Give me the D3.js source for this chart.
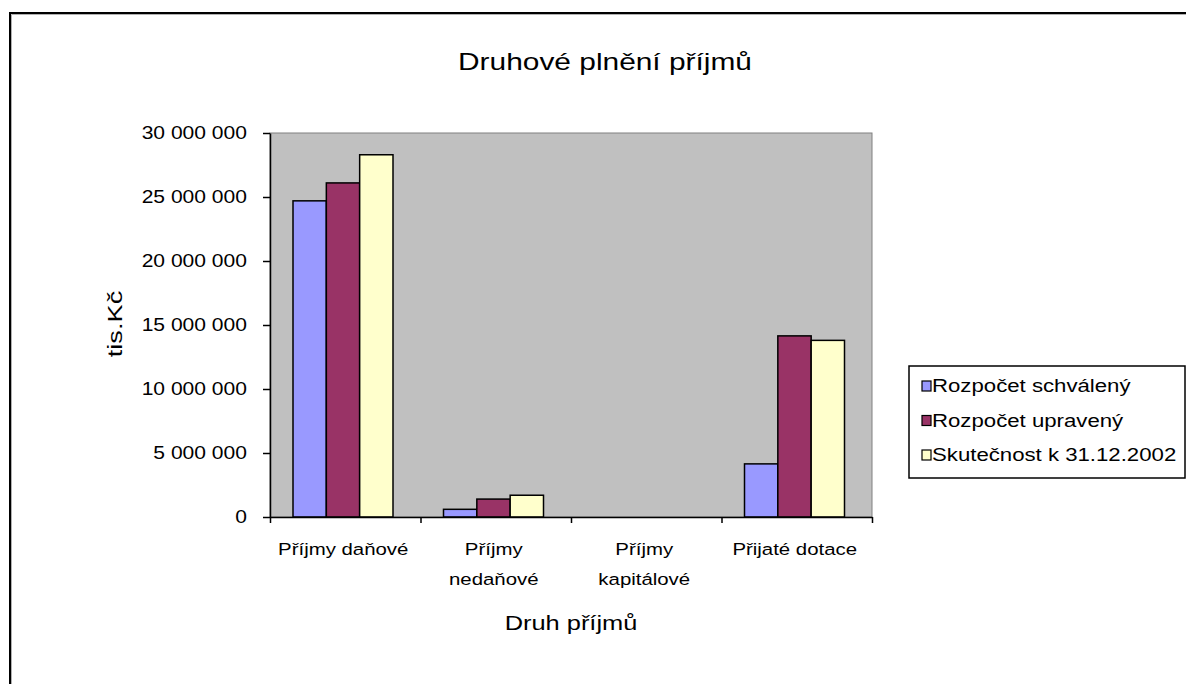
<!DOCTYPE html>
<html>
<head>
<meta charset="utf-8">
<script src="https://cdn.jsdelivr.net/npm/d3@7"></script>
<style>
  body { margin: 0; background: #fff; }
  text { font-family: Arial, "Liberation Sans", sans-serif; fill: #000; }
</style>
</head>
<body>
<div id="chart"></div>
<script>
// Data
var categories = [["Příjmy daňové"], ["Příjmy", "nedaňové"], ["Příjmy", "kapitálové"], ["Přijaté dotace"]];
var seriesNames = ["Rozpočet schválený", "Rozpočet upravený", "Skutečnost k 31.12.2002"];
var schvaleny = [24700000, 600000, 0, 4150000];
var upraveny = [26100000, 1400000, 0, 14150000];
var skutecnost = [28300000, 1700000, 0, 13800000];
var yTicks = [0, 5000000, 10000000, 15000000, 20000000, 25000000, 30000000];

var seriesValues = [schvaleny, upraveny, skutecnost];
var colors = ["#9999ff", "#993366", "#ffffcc"];

// Sizes
var svgWidth = 1186;
var svgHeight = 684;
var plot = { left: 270, right: 872, top: 133, bottom: 517 };

var svg = d3.select("#chart")
  .append("svg")
  .attr("width", svgWidth)
  .attr("height", svgHeight);

// text placed with a horizontal stretch, like the original screenshot
function stretchedText(x, y, sx, size, str, anchor) {
  return svg.append("text")
    .attr("transform", `translate(${x},${y}) scale(${sx},1)`)
    .attr("text-anchor", anchor || "middle")
    .style("font-size", size + "px")
    .text(str);
}

// outer chart border (runs off the right/bottom edge)
svg.append("rect")
  .attr("x", 10).attr("y", 13)
  .attr("width", 1300).attr("height", 800)
  .attr("fill", "#fff")
  .attr("stroke", "#000")
  .attr("stroke-width", 2);
svg.append("line").attr("x1", 11.5).attr("x2", 1300).attr("y1", 14.5).attr("y2", 14.5)
  .attr("stroke", "#b0b0b0").attr("stroke-width", 1);
svg.append("line").attr("x1", 11.5).attr("x2", 11.5).attr("y1", 14.5).attr("y2", 800)
  .attr("stroke", "#b0b0b0").attr("stroke-width", 1);

// title
stretchedText(605, 70, 1.3, 23, "Druhové plnění příjmů");

// scales
var x0 = d3.scaleBand()
  .domain(d3.range(categories.length))
  .range([plot.left, plot.right]);

var x1 = d3.scaleBand()
  .domain(d3.range(seriesNames.length))
  .range([23, 123]);

var y = d3.scaleLinear()
  .domain([0, 30000000])
  .range([plot.bottom, plot.top]);

// plot area
svg.append("rect")
  .attr("x", plot.left).attr("y", plot.top)
  .attr("width", plot.right - plot.left)
  .attr("height", plot.bottom - plot.top)
  .attr("fill", "#c0c0c0")
  .attr("stroke", "#808080")
  .attr("stroke-width", 1);

// bars
var groups = svg.selectAll(".grp")
  .data(categories)
  .enter()
  .append("g")
  .attr("class", "grp")
  .attr("transform", (d, i) => `translate(${x0(i)},0)`);

groups.selectAll("rect")
  .data((d, i) => seriesValues.map((s, j) => ({ s: j, v: s[i] })))
  .enter()
  .filter(d => d.v > 0)
  .append("rect")
  .attr("x", d => x1(d.s))
  .attr("y", d => y(d.v))
  .attr("width", x1.bandwidth())
  .attr("height", d => y(0) - y(d.v))
  .attr("fill", d => colors[d.s])
  .attr("stroke", "#000")
  .attr("stroke-width", 1.5);

// y axis
var fmt = d => d3.format(",")(d).replace(/,/g, " ");
var tickSx = 1.17;
var leftAxis = d3.axisLeft(y).tickValues(yTicks).tickFormat(fmt).tickSizeInner(7).tickSizeOuter(0);
var gy = svg.append("g")
  .attr("transform", `translate(${plot.left},0)`)
  .call(leftAxis);
gy.select(".domain").attr("stroke", "#000").attr("stroke-width", 1.5);
gy.selectAll(".tick line").attr("stroke", "#000").attr("stroke-width", 1.5);
gy.selectAll(".tick text")
  .attr("x", -23 / tickSx)
  .attr("transform", `scale(${tickSx},1)`)
  .style("font-size", "18px");

// x axis
var xTickPos = d3.range(categories.length + 1).map(i => plot.left + i * x0.step());
var xLinear = d3.scaleLinear().domain([plot.left, plot.right]).range([plot.left, plot.right]);
var bottomAxis = d3.axisBottom(xLinear).tickValues(xTickPos).tickFormat("").tickSizeInner(6).tickSizeOuter(0);
var gx = svg.append("g")
  .attr("transform", `translate(0,${plot.bottom})`)
  .call(bottomAxis);
gx.select(".domain").attr("stroke", "#000").attr("stroke-width", 1.5);
gx.selectAll(".tick line").attr("stroke", "#000").attr("stroke-width", 1.5);

// category labels
categories.forEach(function(lines, i) {
  lines.forEach(function(l, k) {
    stretchedText(x0(i) + x0.bandwidth() / 2 - 2, 555 + k * 30, 1.2, 17, l);
  });
});

// axis titles
stretchedText(571, 630, 1.27, 20, "Druh příjmů");

svg.append("text")
  .attr("transform", "translate(122,324) rotate(-90) scale(1.36,1)")
  .attr("text-anchor", "middle")
  .style("font-size", "20px")
  .text("tis.Kč");

// legend
var legend = svg.append("g").attr("transform", "translate(909,366)");
legend.append("rect")
  .attr("width", 276).attr("height", 112)
  .attr("fill", "#fff")
  .attr("stroke", "#000")
  .attr("stroke-width", 1.5);

var items = legend.selectAll(".item")
  .data(seriesNames)
  .enter()
  .append("g")
  .attr("class", "item")
  .attr("transform", (d, i) => `translate(13,${26 + i * 34.5})`);

items.append("rect")
  .attr("x", 0).attr("y", -11)
  .attr("width", 9).attr("height", 10)
  .attr("fill", (d, i) => colors[i])
  .attr("stroke", "#000")
  .attr("stroke-width", 1.2);

items.append("text")
  .attr("transform", "translate(10,0) scale(1.2,1)")
  .style("font-size", "18.5px")
  .text(d => d);
</script>
</body>
</html>
